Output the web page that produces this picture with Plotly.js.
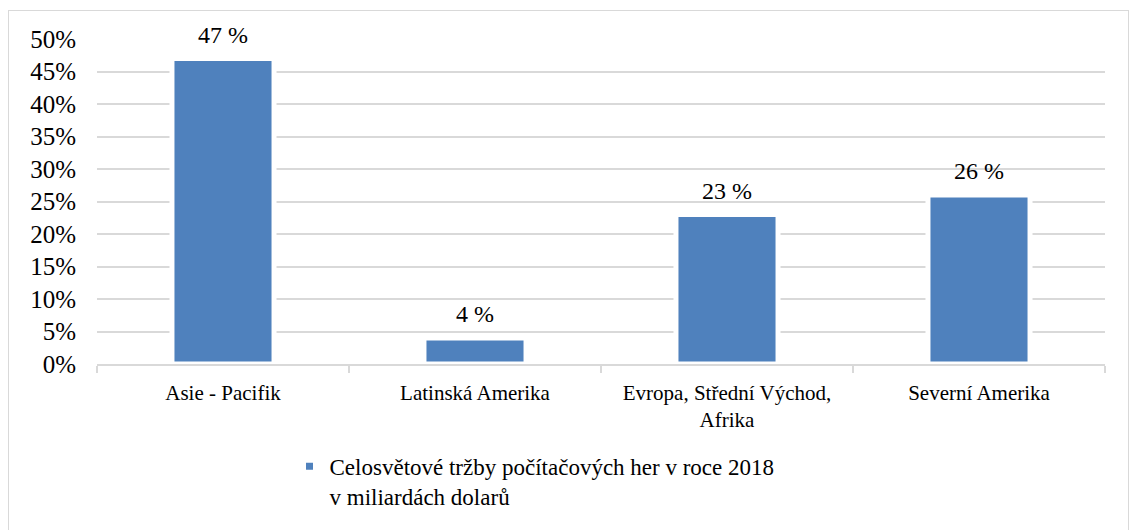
<!DOCTYPE html>
<html>
<head>
<meta charset="utf-8">
<script src="https://cdn.plot.ly/plotly-3.0.1.min.js"></script>
<style>
html,body{margin:0;padding:0;background:#fff;}
#chart{width:1131px;height:530px;position:relative;}
#frame{position:absolute;left:8px;top:10px;width:1121px;height:540px;border:1.5px solid #D9D9D9;box-sizing:border-box;pointer-events:none;}
</style>
</head>
<body>
<div id="chart"></div>
<div id="frame"></div>
<script>
const categories = ["Asie - Pacifik", "Latinská Amerika", "Evropa, Střední Východ,<br>Afrika", "Severní Amerika"];
const values = [0.47, 0.04, 0.23, 0.26];
const valueLabels = ["47 %", "4 %", "23 %", "26 %"];
const seriesName = "Celosvětové tržby počítačových her v roce 2018<br>v miliardách dolarů";
const yTickVals = [0, 0.05, 0.10, 0.15, 0.20, 0.25, 0.30, 0.35, 0.40, 0.45, 0.50];

const serifFamily = "Liberation Serif";

const trace = {
  type: "bar",
  x: categories,
  y: values,
  name: seriesName,
  width: 0.405,
  marker: {color: "#4F81BD", line: {color: "#FFFFFF", width: 5}},
  hoverinfo: "none",
  showlegend: true
};

const annotations = categories.map((c, i) => ({
  x: c, y: values[i], xref: "x", yref: "y",
  text: valueLabels[i], showarrow: false,
  yanchor: "bottom", yshift: 9,
  font: {family: serifFamily, size: 24, color: "#000000"}
}));

const layout = {
  width: 1131, height: 530,
  margin: {l: 97, r: 26, t: 39, b: 160},
  paper_bgcolor: "#fff", plot_bgcolor: "#fff",
  font: {family: serifFamily, size: 21, color: "#000000"},
  xaxis: {
    type: "category",
    showline: true, linecolor: "#D9D9D9", linewidth: 1.5,
    ticks: "outside", tickson: "boundaries", ticklen: 7, tickcolor: "#D9D9D9", tickwidth: 1.5,
    showgrid: false, zeroline: false,
    tickfont: {family: serifFamily, size: 21, color: "#000000"},
    ticklabelstandoff: 9
  },
  yaxis: {
    range: [0, 0.5],
    tickvals: yTickVals, tickformat: ".0%",
    showgrid: true, gridcolor: "#D9D9D9", gridwidth: 1.5,
    zeroline: false, showline: false, ticks: "",
    tickfont: {family: serifFamily, size: 25, color: "#000000"},
    ticklabelstandoff: 20
  },
  showlegend: true,
  legend: {
    x: 0.191, xanchor: "left", y: -0.249, yanchor: "top", valign: "top",
    font: {family: serifFamily, size: 23, color: "#000000"},
    itemwidth: 30, bgcolor: "rgba(0,0,0,0)"
  },
  annotations: annotations
};

Plotly.newPlot("chart", [trace], layout, {displayModeBar: false});
</script>
</body>
</html>
